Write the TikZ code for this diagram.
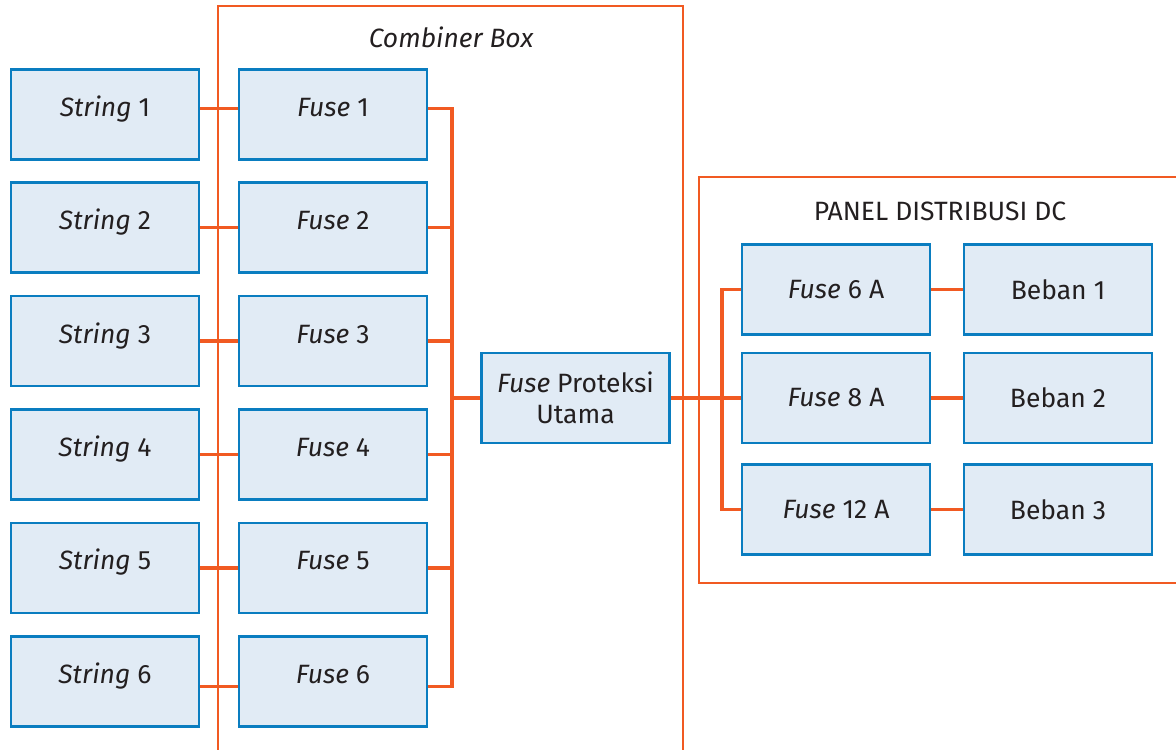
\documentclass[tikz,border=0pt]{standalone}
\usepackage{fontspec}
\setmainfont{Fira Sans}
\definecolor{boxline}{HTML}{0A7DC0}
\definecolor{boxfill}{HTML}{E1EBF5}
\definecolor{wireC}{HTML}{F15A22}
\definecolor{textC}{HTML}{231F20}
\tikzset{
  unit/.style={draw=boxline, fill=boxfill, line width=2.5pt, minimum width=188pt,
    minimum height=90pt, inner sep=0pt, text=textC, align=center,
    font=\fontsize{26.5}{31}\selectfont},
  oneline/.style={unit, text height=0.8em, text depth=0.4em},
  wire/.style={draw=wireC, line width=3.5pt, line join=miter},
  frame/.style={draw=wireC, line width=2pt},
  heading/.style={text=textC, font=\fontsize{26.5}{30}\selectfont, inner sep=0pt}
}
\begin{document}
\begin{tikzpicture}[x=1pt, y=-1pt]
\useasboundingbox (0,0) rectangle (1176,750);
\clip (0,0) rectangle (1176,750);

% enclosures
\draw[frame] (218,800) -- (218,5.5) -- (683,5.5) -- (683,800);
\draw[frame] (1200,176.5) -- (699,176.5) -- (699,582.5) -- (1200,582.5);
\node[heading] (cbt) at (451,37) {\itshape Combiner Box};
\node[heading] (pdt) at (940,211) {PANEL DISTRIBUSI DC};

% strings and their fuses
\foreach \i in {1,...,6} {
  \pgfmathsetmacro{\yy}{114.3+113.4*(\i-1)}
  \node[oneline] (s\i) at (105,\yy) {\textit{String} \i};
  \node[oneline] (f\i) at (333,\yy) {\textit{Fuse} \i};
}

% main protection fuse
\node[unit] (main) at (575.5,398) {\textit{Fuse} Proteksi\\Utama};

% distribution panel
\node[unit] (p1) at (836,289.5) {\textit{Fuse} 6 A};
\node[unit] (p2) at (836,398) {\textit{Fuse} 8 A};
\node[unit] (p3) at (836,509.5) {\textit{Fuse} 12 A};
\node[unit] (l1) at (1058,289.5) {Beban 1};
\node[unit] (l2) at (1058,398) {Beban 2};
\node[unit] (l3) at (1058,509.5) {Beban 3};

% bus positions
\coordinate (busL) at (452,0);
\coordinate (busR) at (722,0);

% string to fuse links
\draw[wire] ([yshift=6pt]s1.east) -- ([yshift=6pt]f1.west);
\foreach \i in {2,...,5} {
  \draw[wire] (s\i.east) -- (f\i.west);
}
\draw[wire] ([yshift=-5pt]s6.east) -- ([yshift=-5pt]f6.west);

% combiner bus
\draw[wire] ([yshift=6pt]f1.east) -- ([yshift=6pt]f1.east -| busL)
  -- ([yshift=-5pt]f6.east -| busL) -- ([yshift=-5pt]f6.east);
\foreach \i in {2,...,5} {
  \draw[wire] (f\i.east) -- (f\i.east -| busL);
}
\draw[wire] (main.west -| busL) -- (main.west);

% main fuse to panel
\draw[wire] (main.east) -- (p2.west);
\draw[wire] (p1.west) -- (p1.west -| busR) -- (p3.west -| busR) -- (p3.west);
\draw[wire] (p1.east) -- (l1.west);
\draw[wire] (p2.east) -- (l2.west);
\draw[wire] (p3.east) -- (l3.west);

\end{tikzpicture}
\end{document}
